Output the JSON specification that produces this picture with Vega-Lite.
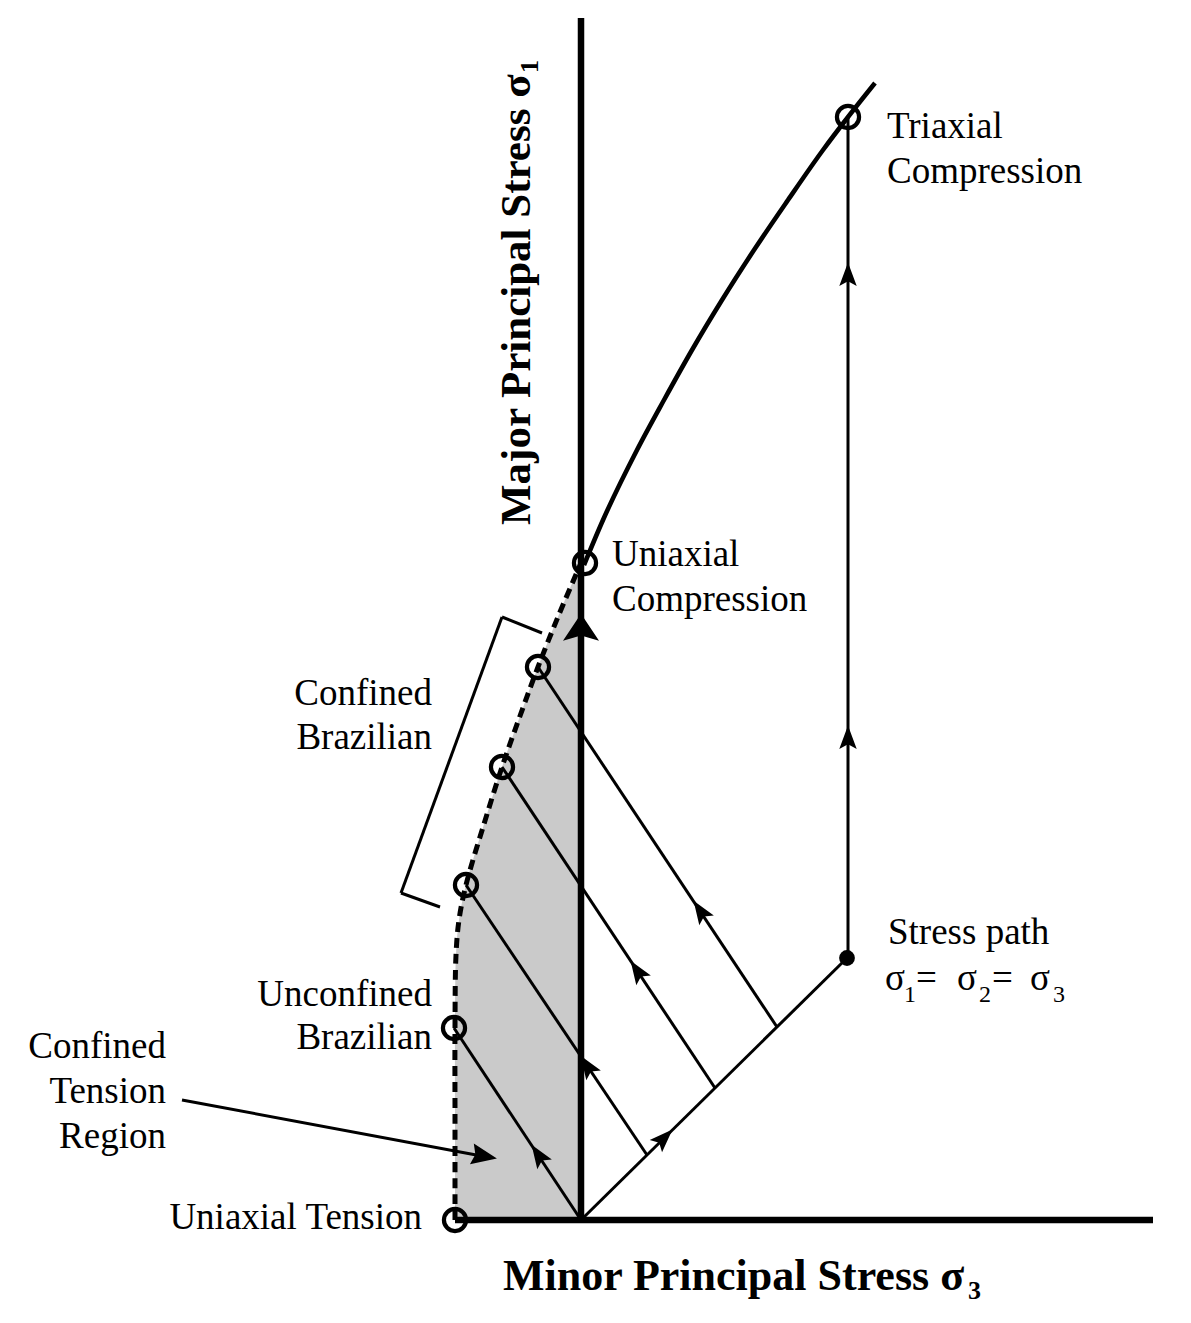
{
  "$schema": "https://vega.github.io/schema/vega-lite/v6.json",
  "width": 1191,
  "height": 1323,
  "padding": 0,
  "autosize": {"type": "fit", "contains": "padding"},
  "background": "white",
  "config": {"view": {"stroke": null}, "text": {"font": "Liberation Serif", "color": "black"}},
  "datasets": {
    "envelope": [
      {"x": 0, "y": 657}, {"x": -21, "y": 608}, {"x": -43, "y": 553}, {"x": -61, "y": 504},
      {"x": -79, "y": 453}, {"x": -97, "y": 396}, {"x": -115, "y": 335}, {"x": -122, "y": 300},
      {"x": -125, "y": 265}, {"x": -126, "y": 192}, {"x": -126, "y": 100}, {"x": -126, "y": 0}
    ],
    "axes": [
      {"x": 0, "y": 0, "x2": 0, "y2": 1202},
      {"x": -126, "y": 0, "x2": 572, "y2": 0}
    ],
    "paths": [
      {"x": 0, "y": 0, "x2": 266, "y2": 262},
      {"x": 267, "y": 262, "x2": 267, "y2": 1103},
      {"x": 196, "y": 193, "x2": -43, "y2": 553},
      {"x": 134, "y": 132, "x2": -79, "y2": 453},
      {"x": 66, "y": 65, "x2": -115, "y2": 335},
      {"x": 0, "y": 0, "x2": -127, "y2": 192},
      {"x": -39, "y": 587, "x2": -79, "y2": 603},
      {"x": -79, "y": 603, "x2": -180, "y2": 327},
      {"x": -180, "y": 327, "x2": -141, "y2": 313},
      {"x": -399, "y": 120, "x2": -94, "y2": 63}
    ],
    "failure": [
      {"x": 3, "y": 655}, {"x": 22, "y": 700}, {"x": 56, "y": 770}, {"x": 83, "y": 820},
      {"x": 111, "y": 870}, {"x": 141, "y": 920}, {"x": 173, "y": 970}, {"x": 207, "y": 1020},
      {"x": 242, "y": 1070}, {"x": 267, "y": 1103}, {"x": 294, "y": 1137}
    ],
    "tests": [
      {"x": 267, "y": 1103, "test": "Triaxial Compression"},
      {"x": 4, "y": 657, "test": "Uniaxial Compression"},
      {"x": -43, "y": 553, "test": "Confined Brazilian"},
      {"x": -79, "y": 453, "test": "Confined Brazilian"},
      {"x": -115, "y": 335, "test": "Confined Brazilian"},
      {"x": -127, "y": 192, "test": "Unconfined Brazilian"},
      {"x": -126, "y": 0, "test": "Uniaxial Tension"}
    ],
    "hydro": [{"x": 266, "y": 262}],
    "arrowSlant": [{"x": -42, "y": 64}, {"x": 7, "y": 153}, {"x": 57, "y": 248}, {"x": 120, "y": 308}],
    "arrowDiag": [{"x": 82, "y": 81}],
    "arrowVert": [{"x": 267, "y": 944}, {"x": 267, "y": 481}],
    "arrowAxis": [{"x": 0, "y": 590}],
    "arrowTension": [{"x": -98, "y": 64}],
    "labelsLeft": [
      {"x": 306, "y": 1082, "label": "Triaxial"},
      {"x": 306, "y": 1037, "label": "Compression"},
      {"x": 31, "y": 654, "label": "Uniaxial"},
      {"x": 31, "y": 609, "label": "Compression"},
      {"x": 307, "y": 276, "label": "Stress path"},
      {"x": 304, "y": 230, "label": "σ"},
      {"x": 335, "y": 230, "label": "="},
      {"x": 376, "y": 230, "label": "σ"},
      {"x": 411, "y": 230, "label": "="},
      {"x": 449, "y": 230, "label": "σ"}
    ],
    "labelsRight": [
      {"x": -149, "y": 515, "label": "Confined"},
      {"x": -149, "y": 471, "label": "Brazilian"},
      {"x": -149, "y": 214, "label": "Unconfined"},
      {"x": -149, "y": 171, "label": "Brazilian"},
      {"x": -415, "y": 162, "label": "Confined"},
      {"x": -415, "y": 117, "label": "Tension"},
      {"x": -415, "y": 72, "label": "Region"},
      {"x": -159, "y": -9, "label": "Uniaxial Tension"}
    ],
    "subs": [
      {"x": 323, "y": 218, "label": "1"},
      {"x": 398, "y": 218, "label": "2"},
      {"x": 472, "y": 218, "label": "3"}
    ],
    "xTitle": [{"x": -78, "y": -70, "label": "Minor Principal Stress σ"}],
    "xTitleSub": [{"x": 387, "y": -79, "label": "3"}],
    "yTitle": [{"x": -51, "y": 695, "label": "Major Principal Stress σ"}],
    "yTitleSub": [{"x": -43, "y": 1147, "label": "1"}]
  },
  "encoding": {
    "x": {"field": "x", "type": "quantitative", "scale": {"domain": [-581, 610], "nice": false, "zero": false}, "axis": null},
    "y": {"field": "y", "type": "quantitative", "scale": {"domain": [-103, 1220], "nice": false, "zero": false}, "axis": null}
  },
  "layer": [
    {
      "data": {"name": "envelope"},
      "mark": {"type": "area", "orient": "horizontal", "interpolate": "catmull-rom", "color": "#cacaca"},
      "encoding": {"x2": {"datum": 0}}
    },
    {
      "data": {"name": "axes"},
      "mark": {"type": "rule", "strokeWidth": 6.5, "color": "black"},
      "encoding": {"x2": {"field": "x2"}, "y2": {"field": "y2"}}
    },
    {
      "data": {"name": "paths"},
      "mark": {"type": "rule", "strokeWidth": 3, "color": "black"},
      "encoding": {"x2": {"field": "x2"}, "y2": {"field": "y2"}}
    },
    {
      "data": {"name": "envelope"},
      "mark": {"type": "line", "interpolate": "catmull-rom", "strokeDash": [10, 6], "strokeWidth": 5, "color": "black"},
      "encoding": {"order": {"field": "y", "type": "quantitative"}}
    },
    {
      "data": {"name": "failure"},
      "mark": {"type": "line", "interpolate": "monotone", "strokeWidth": 4.6, "color": "black"},
      "encoding": {"order": {"field": "x", "type": "quantitative"}}
    },
    {
      "data": {"name": "tests"},
      "mark": {"type": "point", "filled": false, "shape": "circle", "size": 490, "strokeWidth": 4.2, "color": "black", "opacity": 1}
    },
    {
      "data": {"name": "hydro"},
      "mark": {"type": "point", "filled": true, "shape": "circle", "size": 250, "color": "black", "opacity": 1}
    },
    {
      "data": {"name": "arrowSlant"},
      "mark": {"type": "point", "filled": true, "shape": "M0,-1L0.65,0.75L0,0.4L-0.65,0.75Z", "size": 720, "angle": 326.4, "color": "black", "opacity": 1}
    },
    {
      "data": {"name": "arrowDiag"},
      "mark": {"type": "point", "filled": true, "shape": "M0,-1L0.65,0.75L0,0.4L-0.65,0.75Z", "size": 720, "angle": 45, "color": "black", "opacity": 1}
    },
    {
      "data": {"name": "arrowVert"},
      "mark": {"type": "point", "filled": true, "shape": "M0,-1L0.65,0.75L0,0.4L-0.65,0.75Z", "size": 720, "angle": 0, "color": "black", "opacity": 1}
    },
    {
      "data": {"name": "arrowAxis"},
      "mark": {"type": "point", "filled": true, "shape": "M0,-0.9L1,0.6L0,0.3L-1,0.6Z", "size": 1300, "angle": 0, "color": "black", "opacity": 1}
    },
    {
      "data": {"name": "arrowTension"},
      "mark": {"type": "point", "filled": true, "shape": "M0,-1L0.75,0.8L0,0.55L-0.75,0.8Z", "size": 800, "angle": 100.5, "color": "black", "opacity": 1}
    },
    {
      "data": {"name": "labelsLeft"},
      "mark": {"type": "text", "align": "left", "baseline": "alphabetic", "fontSize": 37},
      "encoding": {"text": {"field": "label"}}
    },
    {
      "data": {"name": "labelsRight"},
      "mark": {"type": "text", "align": "right", "baseline": "alphabetic", "fontSize": 37},
      "encoding": {"text": {"field": "label"}}
    },
    {
      "data": {"name": "subs"},
      "mark": {"type": "text", "align": "left", "baseline": "alphabetic", "fontSize": 24},
      "encoding": {"text": {"field": "label"}}
    },
    {
      "data": {"name": "xTitle"},
      "mark": {"type": "text", "align": "left", "baseline": "alphabetic", "fontSize": 44, "fontWeight": "bold"},
      "encoding": {"text": {"field": "label"}}
    },
    {
      "data": {"name": "xTitleSub"},
      "mark": {"type": "text", "align": "left", "baseline": "alphabetic", "fontSize": 26, "fontWeight": "bold"},
      "encoding": {"text": {"field": "label"}}
    },
    {
      "data": {"name": "yTitle"},
      "mark": {"type": "text", "align": "left", "baseline": "alphabetic", "fontSize": 43, "fontWeight": "bold", "angle": 270},
      "encoding": {"text": {"field": "label"}}
    },
    {
      "data": {"name": "yTitleSub"},
      "mark": {"type": "text", "align": "left", "baseline": "alphabetic", "fontSize": 26, "fontWeight": "bold", "angle": 270},
      "encoding": {"text": {"field": "label"}}
    }
  ]
}
